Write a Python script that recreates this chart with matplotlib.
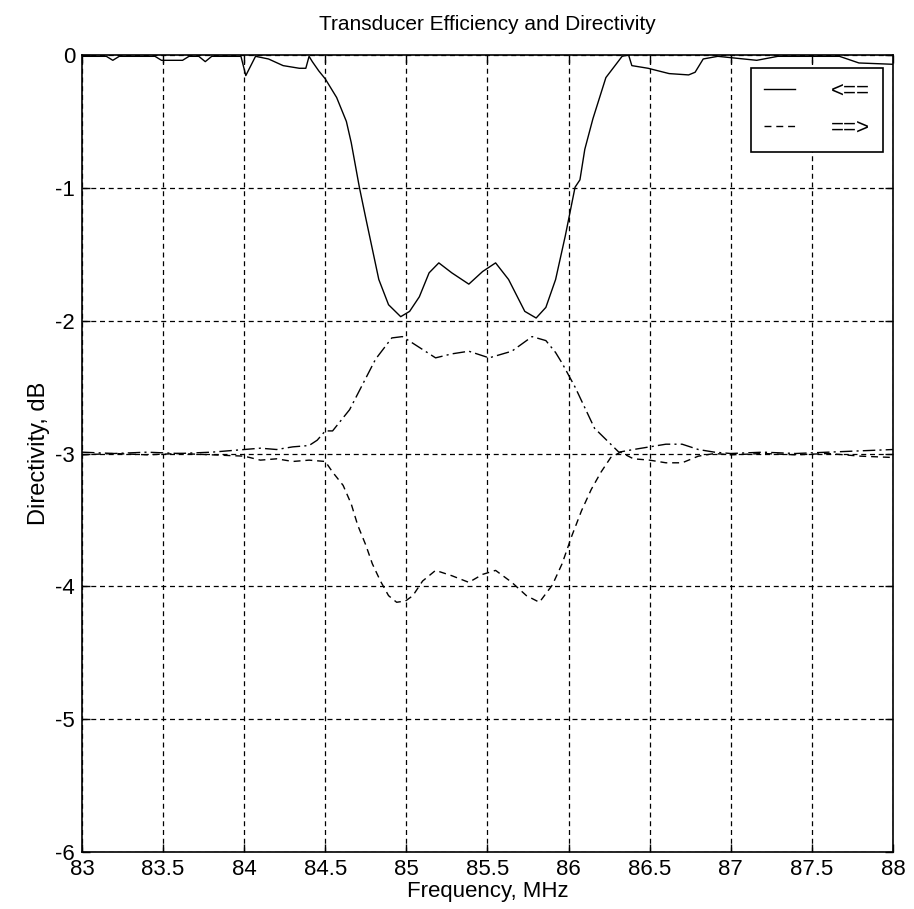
#!/usr/bin/env python3

import matplotlib.pyplot as plt
import numpy as np

plt.rcParams['font.family'] = ['Liberation Sans', 'DejaVu Sans']
plt.rcParams['axes.unicode_minus'] = False

# efficiency curve, "<==" (solid)
f_eff = [83.0, 83.15, 83.19, 83.23, 83.45, 83.49, 83.62, 83.66, 83.72, 83.76, 83.80,
         83.98, 84.01, 84.07, 84.15, 84.24, 84.34, 84.38, 84.40, 84.42, 84.46, 84.50,
         84.57, 84.63, 84.66, 84.71, 84.75, 84.83, 84.89, 84.965, 85.02, 85.08, 85.14,
         85.20, 85.28, 85.385, 85.47, 85.55, 85.63, 85.73, 85.80, 85.86, 85.92, 85.98,
         86.04, 86.07, 86.10, 86.15, 86.23, 86.33, 86.37, 86.39, 86.49, 86.62, 86.74,
         86.78, 86.83, 86.92, 87.08, 87.16, 87.29, 87.67, 87.79, 88.0]
db_eff = [-0.01, -0.01, -0.04, -0.01, -0.01, -0.04, -0.04, -0.01, -0.01, -0.05, -0.01,
          -0.01, -0.155, -0.01, -0.03, -0.08, -0.10, -0.10, -0.01, -0.05, -0.12, -0.18,
          -0.32, -0.50, -0.66, -0.995, -1.23, -1.69, -1.88, -1.97, -1.93, -1.82, -1.64,
          -1.565, -1.64, -1.725, -1.63, -1.565, -1.69, -1.93, -1.98, -1.90, -1.69, -1.36,
          -0.995, -0.94, -0.71, -0.48, -0.17, -0.01, 0.0, -0.08, -0.10, -0.14, -0.15,
          -0.13, -0.03, -0.01, -0.03, -0.04, -0.01, -0.01, -0.06, -0.07]

# directivity "==>" (dashed)
f_fwd = [83.0, 83.2, 83.4, 83.6, 83.8, 84.0, 84.1, 84.2, 84.3, 84.4, 84.5, 84.545,
         84.61, 84.66, 84.70, 84.75, 84.79, 84.84, 84.89, 84.94, 84.995, 85.04, 85.10,
         85.18, 85.28, 85.385, 85.47, 85.55, 85.65, 85.74, 85.82, 85.90, 85.96, 86.02,
         86.08, 86.14, 86.20, 86.26, 86.32, 86.4, 86.5, 86.6, 86.7, 86.8, 86.9, 87.0,
         87.2, 87.4, 87.6, 87.8, 88.0]
db_fwd = [-3.01, -3.0, -3.01, -3.0, -3.01, -3.02, -3.05, -3.04, -3.06, -3.05, -3.06,
          -3.14, -3.24, -3.38, -3.54, -3.69, -3.83, -3.96, -4.07, -4.12, -4.11, -4.07,
          -3.96, -3.88, -3.92, -3.97, -3.91, -3.88, -3.97, -4.07, -4.12, -3.99, -3.83,
          -3.62, -3.43, -3.27, -3.14, -3.03, -2.99, -3.04, -3.05, -3.07, -3.07, -3.02,
          -3.0, -3.01, -3.0, -3.01, -3.0, -3.02, -3.03]

# directivity, opposite direction (dash-dot)
f_bwd = [83.0, 83.2, 83.4, 83.6, 83.8, 84.0, 84.1, 84.2, 84.3, 84.4, 84.45, 84.50,
         84.545, 84.65, 84.81, 84.86, 84.91, 84.975, 85.04, 85.18, 85.28, 85.385, 85.51,
         85.65, 85.775, 85.86, 85.92, 85.96, 86.04, 86.16, 86.31, 86.4, 86.5, 86.6,
         86.7, 86.8, 86.9, 87.0, 87.2, 87.4, 87.6, 87.8, 88.0]
db_bwd = [-2.99, -3.0, -2.99, -3.0, -2.99, -2.97, -2.96, -2.97, -2.95, -2.94, -2.9,
          -2.83, -2.83, -2.67, -2.29, -2.21, -2.13, -2.12, -2.17, -2.28, -2.25, -2.23,
          -2.28, -2.23, -2.12, -2.15, -2.24, -2.32, -2.50, -2.81, -2.99, -2.97, -2.95,
          -2.93, -2.93, -2.97, -2.99, -3.0, -2.99, -3.0, -2.99, -2.98, -2.97]


def main() -> None:
    fig = plt.figure(figsize=(9.14, 9.09), dpi=100)
    ax = fig.add_axes([0.0897, 0.0627, 0.8873, 0.8768])

    ax.plot(f_eff, db_eff, color='black', lw=1.0, label='<==')
    ax.plot(f_fwd, db_fwd, color='black', lw=1.0, linestyle=(0, (5, 3.5)), label='==>')
    ax.plot(f_bwd, db_bwd, color='black', lw=1.0, linestyle=(0, (9, 3, 1.5, 3)))

    ax.set_xlim(83, 88)
    ax.set_ylim(-6, 0)
    ax.set_xticks(np.arange(83, 88.01, 0.5))
    ax.set_xticklabels(['83', '83.5', '84', '84.5', '85', '85.5', '86', '86.5',
                        '87', '87.5', '88'])
    ax.set_yticks(np.arange(-6, 0.01, 1))
    ax.set_yticklabels(['-6', '-5', '-4', '-3', '-2', '-1', '0'])
    ax.grid(True, color='black', linestyle=(0, (4, 3)), linewidth=0.9)
    ax.tick_params(direction='in', length=6, width=1, labelsize=16,
                   top=True, right=True, pad=5)
    for s in ax.spines.values():
        s.set_linewidth(1.2)

    ax.set_title('Transducer Efficiency and Directivity', fontsize=15, pad=18)
    ax.set_xlabel('Frequency, MHz', fontsize=16, labelpad=1)
    ax.set_ylabel('Directivity, dB', fontsize=17, labelpad=4)

    leg = ax.legend(loc='upper right', bbox_to_anchor=(0.988, 0.984), borderaxespad=0,
                    fontsize=16, handlelength=1.4, handletextpad=1.6, labelspacing=0.7,
                    borderpad=0.6, fancybox=False, framealpha=1, edgecolor='black')
    leg.get_frame().set_linewidth(1.2)

    fig.savefig('out.png', dpi=100)


if __name__ == '__main__':
    main()
